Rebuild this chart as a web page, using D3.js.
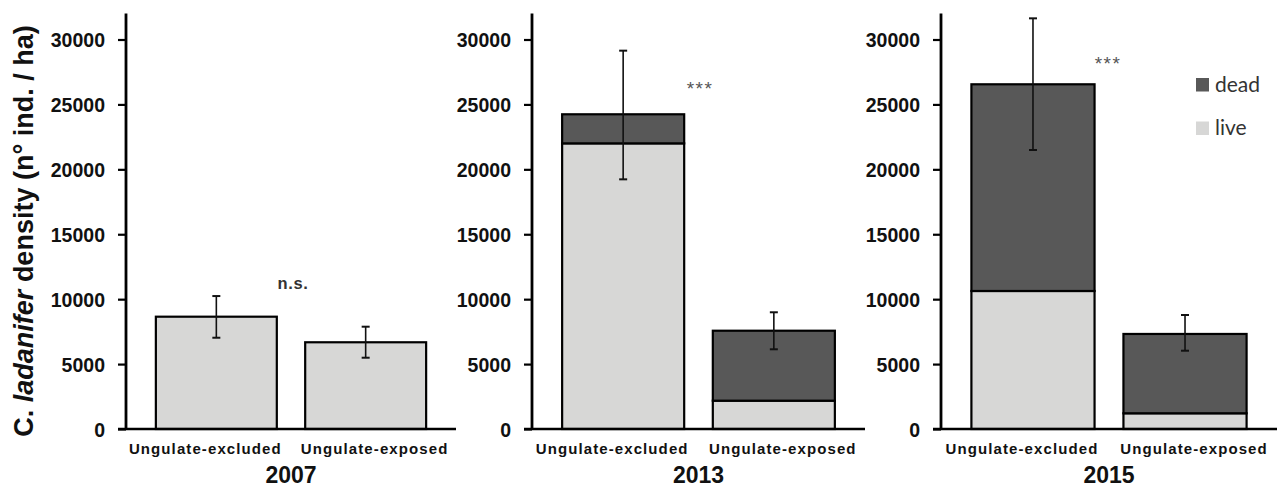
<!DOCTYPE html>
<html>
<head>
<meta charset="utf-8">
<script src="https://cdn.jsdelivr.net/npm/d3@7"></script>
<style>
  html, body { margin: 0; padding: 0; background: #fff; }
  svg { display: block; }
</style>
</head>
<body>
<svg id="chart" width="1277" height="488"></svg>
<script>
// Cistus ladanifer density by treatment, split into live and dead plants
const years = ["2007", "2013", "2015"];
const treatments = ["Ungulate-excluded", "Ungulate-exposed"];
const liveValues = [[8650, 6680], [22000, 2180], [10630, 1210]];
const deadValues = [[0, 0], [2240, 5390], [15920, 6110]];
const errLow = [[7030, 5490], [19230, 6140], [21490, 6030]];
const errHigh = [[10240, 7880], [29140, 8990], [31630, 8780]];
const significance = ["n.s.", "***", "***"];
const yTicks = [0, 5000, 10000, 15000, 20000, 25000, 30000];
const legendItems = ["dead", "live"];

const colors = { live: "#d7d7d6", dead: "#585858" };

const svg = d3.select("#chart");

// Panel layout: left axis position and right end of the baseline
const panels = [
  { axisX: 126, endX: 456, sigX: 293, sigY: 289 },
  { axisX: 532, endX: 865, sigX: 700, sigY: 95 },
  { axisX: 941, endX: 1277, sigX: 1108, sigY: 70 }
];

const y = d3.scaleLinear().domain([0, 32000]).range([429, 429 - 389.5 * 32000 / 30000]);
const labelShift = [-11, 9];

panels.forEach((p, i) => {
  const g = svg.append("g");
  const x = d3.scaleBand()
    .domain(treatments)
    .range([p.axisX, p.endX])
    .paddingInner(0.19)
    .paddingOuter(0.2);

  // stacked bars: live at bottom, dead on top
  treatments.forEach((t, j) => {
    const live = liveValues[i][j];
    const dead = deadValues[i][j];
    g.append("rect")
      .attr("x", x(t))
      .attr("y", y(live))
      .attr("width", x.bandwidth())
      .attr("height", y(0) - y(live))
      .attr("fill", colors.live)
      .attr("stroke", "#000")
      .attr("stroke-width", 2.2);
    if (dead > 0) {
      g.append("rect")
        .attr("x", x(t))
        .attr("y", y(live + dead))
        .attr("width", x.bandwidth())
        .attr("height", y(live) - y(live + dead))
        .attr("fill", colors.dead)
        .attr("stroke", "#000")
        .attr("stroke-width", 2.2);
    }

    // error bar
    const cx = x(t) + x.bandwidth() / 2;
    const eg = g.append("g").attr("stroke", "#111").attr("stroke-width", 1.6);
    eg.append("line").attr("x1", cx).attr("x2", cx)
      .attr("y1", y(errLow[i][j])).attr("y2", y(errHigh[i][j]));
    [errLow[i][j], errHigh[i][j]].forEach(v => {
      eg.append("line").attr("x1", cx - 4).attr("x2", cx + 4)
        .attr("y1", y(v)).attr("y2", y(v)).attr("stroke-width", 2);
    });

    // category label
    g.append("text")
      .attr("x", cx + labelShift[j])
      .attr("y", 454)
      .attr("text-anchor", "middle")
      .attr("font-family", "Liberation Sans, Arial, sans-serif")
      .attr("font-weight", "bold")
      .attr("font-size", 15)
      .attr("letter-spacing", "1.1px")
      .attr("fill", "#111")
      .text(t);
  });

  // baseline
  g.append("line")
    .attr("x1", p.axisX - 8).attr("x2", p.endX)
    .attr("y1", y(0)).attr("y2", y(0))
    .attr("stroke", "#000").attr("stroke-width", 2.5);

  // y axis
  const axis = d3.axisLeft(y).tickValues(yTicks).tickSize(8).tickPadding(13)
    .tickFormat(d3.format("d"));
  const ag = g.append("g").attr("transform", `translate(${p.axisX},0)`).call(axis);
  ag.select(".domain").remove();
  ag.append("line").attr("x1", 0).attr("x2", 0)
    .attr("y1", y(0) + 1).attr("y2", y(32000))
    .attr("stroke", "#000").attr("stroke-width", 2.8);
  ag.selectAll(".tick line").attr("stroke", "#000").attr("stroke-width", 2.2);
  ag.selectAll(".tick text")
    .attr("font-family", "Liberation Sans, Arial, sans-serif")
    .attr("font-weight", "bold")
    .attr("font-size", 19.5)
    .attr("fill", "#111")
    .attr("dy", "0.36em");

  // year label centred on the bars
  const yearX = (x(treatments[0]) + x(treatments[1]) + x.bandwidth()) / 2;
  g.append("text")
    .attr("x", yearX)
    .attr("y", 483)
    .attr("text-anchor", "middle")
    .attr("font-family", "Liberation Sans, Arial, sans-serif")
    .attr("font-weight", "bold")
    .attr("font-size", 23)
    .attr("fill", "#111")
    .text(years[i]);

  // significance marker
  const sig = significance[i];
  const ns = sig === "n.s.";
  g.append("text")
    .attr("x", p.sigX)
    .attr("y", p.sigY)
    .attr("text-anchor", "middle")
    .attr("font-family", "Liberation Sans, Arial, sans-serif")
    .attr("font-weight", ns ? "bold" : "normal")
    .attr("font-size", ns ? 16.5 : 19)
    .attr("letter-spacing", ns ? "0.6px" : "1.5px")
    .attr("fill", ns ? "#333" : "#555")
    .text(sig);
});

// y axis title
const title = svg.append("text")
  .attr("transform", "translate(33,231) rotate(-90)")
  .attr("text-anchor", "middle")
  .attr("font-family", "Liberation Sans, Arial, sans-serif")
  .attr("font-weight", "bold")
  .attr("font-size", 27)
  .attr("fill", "#111");
title.append("tspan").text("C. ");
title.append("tspan").attr("font-style", "italic").text("ladanifer");
title.append("tspan").text(" density (n\u00b0 ind. / ha)");

// legend
const legend = svg.append("g").attr("transform", "translate(1196,78)");
legendItems.forEach((name, k) => {
  const lg = legend.append("g").attr("transform", `translate(0,${k * 43.5})`);
  lg.append("rect").attr("width", 13).attr("height", 13.5)
    .attr("fill", name === "dead" ? colors.dead : colors.live);
  lg.append("text").attr("x", 19).attr("y", 13.5)
    .attr("font-family", "Lato, 'Open Sans', sans-serif")
    .attr("font-size", 21)
    .attr("fill", "#333")
    .text(name);
});
</script>
</body>
</html>
